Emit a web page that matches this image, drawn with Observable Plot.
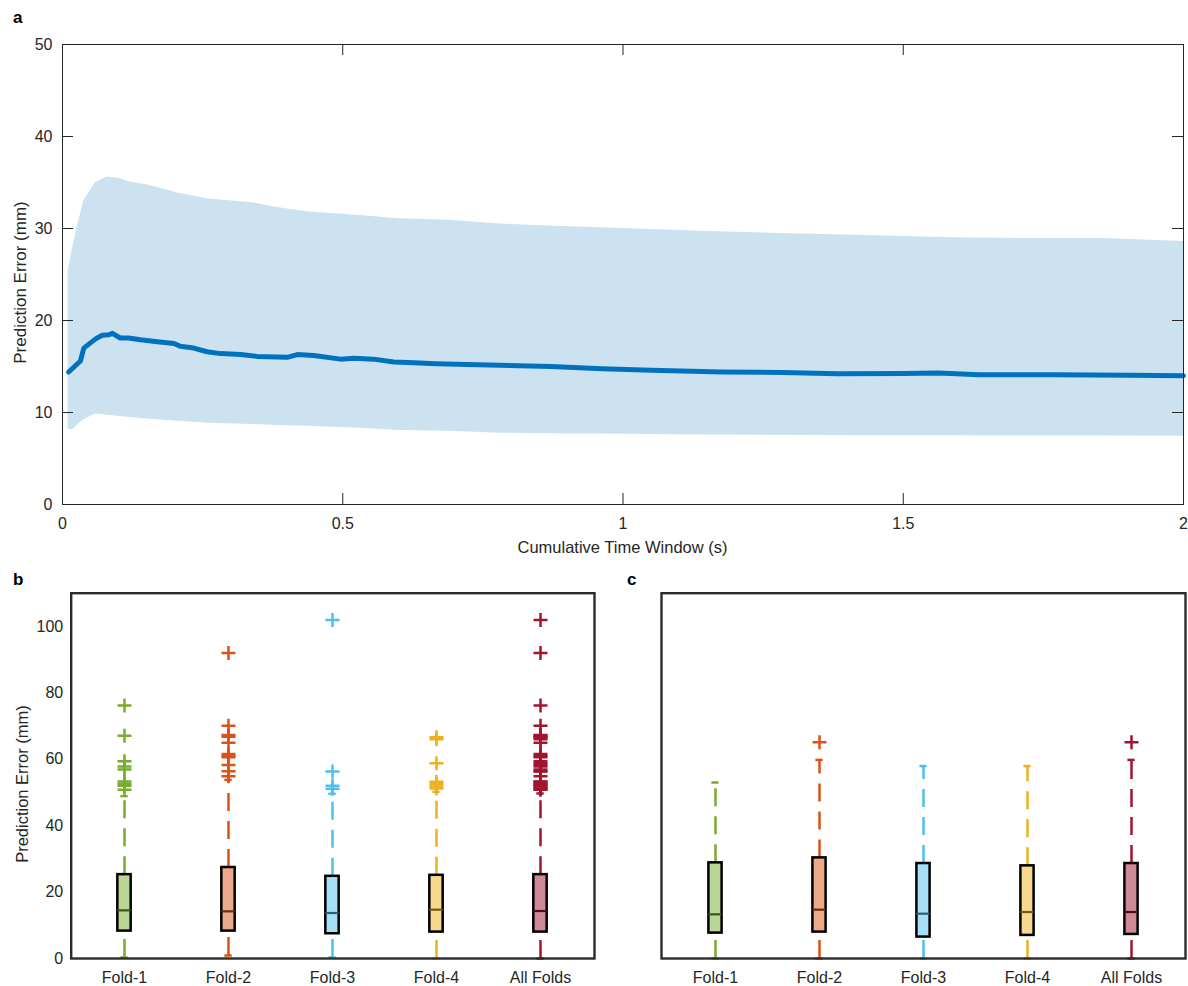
<!DOCTYPE html>
<html>
<head>
<meta charset="utf-8">
<script src="https://cdn.jsdelivr.net/npm/d3@7"></script>
<script src="https://cdn.jsdelivr.net/npm/@observablehq/plot@0.6"></script>
<style>
  html, body { margin: 0; padding: 0; background: #fff; }
  #root { position: relative; width: 1188px; height: 986px; overflow: hidden; font-family: "Liberation Sans", Arial, sans-serif; }
  .panel { position: absolute; }
  #overlay { position: absolute; left: 0; top: 0; pointer-events: none; }
</style>
</head>
<body>
<div id="root"></div>
<script>
// ---------------- Panel a data ----------------
const bandT     = [0.01, 0.017, 0.026, 0.038, 0.059, 0.08, 0.103, 0.12, 0.15, 0.18, 0.205, 0.26, 0.34, 0.38, 0.44, 0.53, 0.6, 0.69, 0.78, 0.85, 0.96, 1.05, 1.14, 1.32, 1.45, 1.59, 1.72, 1.86, 2.0];
const bandUpper = [25.3, 27.6, 30.1, 33.0, 35.0, 35.6, 35.4, 35.05, 34.75, 34.3, 33.85, 33.2, 32.8, 32.3, 31.8, 31.4, 31.05, 30.9, 30.5, 30.3, 30.07, 29.9, 29.7, 29.4, 29.2, 29.0, 28.9, 28.9, 28.6];
const bandLower = [8.2, 8.1, 8.6, 9.2, 9.85, 9.7, 9.57, 9.45, 9.3, 9.15, 9.05, 8.84, 8.7, 8.6, 8.5, 8.3, 8.05, 7.95, 7.75, 7.7, 7.65, 7.6, 7.55, 7.5, 7.48, 7.47, 7.45, 7.44, 7.43];

const meanT   = [0.011, 0.032, 0.038, 0.059, 0.071, 0.083, 0.089, 0.103, 0.118, 0.139, 0.169, 0.199, 0.21, 0.234, 0.258, 0.282, 0.318, 0.347, 0.401, 0.419, 0.448, 0.496, 0.52, 0.555, 0.591, 0.627, 0.666, 0.872, 0.962, 1.051, 1.177, 1.285, 1.383, 1.50, 1.563, 1.635, 1.768, 1.903, 2.0];
const meanErr = [14.4, 15.6, 17.0, 18.0, 18.4, 18.45, 18.6, 18.1, 18.1, 17.9, 17.7, 17.5, 17.2, 17.0, 16.6, 16.4, 16.3, 16.1, 16.0, 16.3, 16.2, 15.8, 15.9, 15.8, 15.5, 15.4, 15.3, 15.0, 14.75, 14.6, 14.4, 14.35, 14.2, 14.24, 14.3, 14.1, 14.1, 14.05, 14.0];

const xTicksA = [0, 0.5, 1, 1.5, 2];
const yTicksA = [0, 10, 20, 30, 40, 50];

// ---------------- Panels b & c data ----------------
const categories   = ["Fold-1", "Fold-2", "Fold-3", "Fold-4", "All Folds"];
const lineColors   = ["#77AC30", "#D95319", "#4DBEEE", "#EDB120", "#A2142F"];
const fillColors   = ["#bbd597", "#eca98c", "#a6def6", "#f6d88f", "#d08997"];
const medianColors = ["#3c5618", "#6c2a0c", "#265f77", "#765810", "#510a17"];
const yTicksB = [0, 20, 40, 60, 80, 100];

// panel b
const q1B  = [8.25, 8.25, 7.45, 7.95, 7.95];
const medB = [14.5, 14.2, 13.7, 14.7, 14.3];
const q3B  = [25.25, 27.4, 24.75, 25.05, 25.25];
const loB  = [0.3, 0.9, 0.3, 0, 0];
const hiB  = [48.9, 53.8, 49.6, 50.2, 49.7];
const outFold1B = [76.2, 67.1, 59.4, 57.8, 56.9, 53.3, 52.6, 52.0, 50.8];
const outFold2B = [92.0, 70.1, 67.3, 66.8, 65.0, 61.6, 61.0, 60.6, 58.3, 56.4, 54.9];
const outFold3B = [101.9, 56.3, 52.0, 51.1];
const outFold4B = [66.6, 66.0, 58.8, 53.2, 52.5, 51.8, 51.2];
const outAllB   = [101.9, 92.0, 76.2, 70.1, 67.3, 67.1, 66.8, 66.6, 66.0, 65.0, 61.6, 61.0, 60.6, 59.4, 58.8, 58.3, 57.8, 56.9, 56.4, 56.3, 54.9, 53.3, 53.2, 52.6, 52.5, 52.0, 51.8, 51.2, 51.1, 50.8];

// panel c
const q1C  = [7.65, 7.95, 6.45, 6.95, 7.25];
const medC = [13.3, 14.7, 13.5, 14.0, 14.0];
const q3C  = [28.8, 30.3, 28.6, 27.9, 28.6];
const loC  = [0, 0, 0, 0, 0];
const hiC  = [53.0, 59.8, 57.95, 57.95, 59.8];
const outFold1C = [];
const outFold2C = [65.1];
const outFold3C = [];
const outFold4C = [];
const outAllC   = [65.1];

// ---------------- helpers ----------------
const FONT = "'Liberation Sans', Arial, Helvetica, sans-serif";
const TXT = "#262626";
const root = document.getElementById("root");

function place(node, left, top) {
  const div = document.createElement("div");
  div.className = "panel";
  div.style.left = left + "px";
  div.style.top = top + "px";
  div.appendChild(node);
  root.appendChild(div);
}

const plusSymbol = {
  draw(context, size) {
    const r = Math.sqrt(size / Math.PI);
    context.moveTo(-r, 0); context.lineTo(r, 0);
    context.moveTo(0, -r); context.lineTo(0, r);
  }
};

// ---------------- Panel a ----------------
{
  const width = 1188, height = 560, mL = 62, mR = 5, mT = 44, mB = 56;
  const fw = width - mL - mR, fh = height - mT - mB;
  const tickLen = 11;
  const band = bandT.map((t, i) => ({t, lo: bandLower[i], hi: bandUpper[i]}));
  const mean = meanT.map((t, i) => ({t, v: meanErr[i]}));
  const chart = Plot.plot({
    width, height, marginLeft: mL, marginRight: mR, marginTop: mT, marginBottom: mB,
    style: {fontFamily: FONT, fontSize: "16px", color: TXT, background: "transparent", overflow: "visible"},
    x: {domain: [0, 2]},
    y: {domain: [0, 50]},
    marks: [
      Plot.areaY(band, {x: "t", y1: "lo", y2: "hi", fill: "#cce2f1", curve: "linear"}),
      Plot.line(mean, {x: "t", y: "v", stroke: "#0072BD", strokeWidth: 5, curve: "linear"}),
      Plot.tickY(yTicksA, {y: d => d, stroke: TXT, strokeWidth: 1, insetRight: fw - tickLen}),
      Plot.tickY(yTicksA, {y: d => d, stroke: TXT, strokeWidth: 1, insetLeft: fw - tickLen}),
      Plot.tickX(xTicksA, {x: d => d, stroke: TXT, strokeWidth: 1, insetTop: fh - tickLen}),
      Plot.tickX(xTicksA, {x: d => d, stroke: TXT, strokeWidth: 1, insetBottom: fh - tickLen}),
      Plot.frame({stroke: TXT, strokeWidth: 1}),
      Plot.axisY({ticks: yTicksA, tickSize: 0, tickPadding: 10, label: null, fill: TXT, tickFormat: d => String(d)}),
      Plot.axisX({ticks: xTicksA, tickSize: 0, tickPadding: 13, label: null, fill: TXT, tickFormat: d => String(d)})
    ]
  });
  place(chart, 0, 0);
}

// ---------------- Box panels ----------------
function boxPanel({left, top, width, height, mL, mR, mT, mB, q1, med, q3, lo, hi, outs, showY}) {
  const fw = width - mL - mR;
  const bw = fw / categories.length;
  const boxInset = (bw - 14) / 2;
  const capInset = (bw - 8) / 2;
  const boxes = categories.map((c, i) => ({
    cat: c, q1: q1[i], med: med[i], q3: q3[i], lo: lo[i], hi: hi[i],
    color: lineColors[i], boxFill: fillColors[i], mcol: medianColors[i]
  }));
  const outliers = [];
  categories.forEach((c, i) => outs[i].forEach(v => outliers.push({cat: c, v, color: lineColors[i]})));
  const marks = [
    Plot.ruleX(boxes, {x: "cat", y1: "lo", y2: "q1", stroke: "color", strokeWidth: 2.5, strokeDasharray: "18,10"}),
    Plot.ruleX(boxes, {x: "cat", y1: "q3", y2: "hi", stroke: "color", strokeWidth: 2.5, strokeDasharray: "18,10"}),
    Plot.tickY(boxes, {x: "cat", y: "hi", stroke: "color", strokeWidth: 2.5, insetLeft: capInset, insetRight: capInset}),
    Plot.tickY(boxes, {x: "cat", y: "lo", stroke: "color", strokeWidth: 2.5, insetLeft: capInset, insetRight: capInset}),
    Plot.dot(outliers, {x: "cat", y: "v", stroke: "color", symbol: plusSymbol, r: 7, strokeWidth: 2.5, fill: "none"}),
    Plot.barY(boxes, {x: "cat", y1: "q1", y2: "q3", fill: "boxFill", stroke: "#000", strokeWidth: 2.5, insetLeft: boxInset, insetRight: boxInset}),
    Plot.tickY(boxes, {x: "cat", y: "med", stroke: "mcol", strokeWidth: 2.2, insetLeft: boxInset, insetRight: boxInset}),
    Plot.frame({stroke: "#2b2b2b", strokeWidth: 2.4}),
    Plot.axisX({tickSize: 0, tickPadding: 13, label: null, fill: TXT})
  ];
  if (showY) marks.push(Plot.axisY({ticks: yTicksB, tickSize: 0, tickPadding: 8, label: null, fill: TXT}));
  else marks.push(Plot.axisY({ticks: [], label: null}));
  const chart = Plot.plot({
    width, height, marginLeft: mL, marginRight: mR, marginTop: mT, marginBottom: mB,
    style: {fontFamily: FONT, fontSize: "16px", color: TXT, background: "transparent", overflow: "visible"},
    x: {type: "band", domain: categories, padding: 0},
    y: {domain: [0, 110]},
    color: {type: "identity"},
    marks
  });
  place(chart, left, top);
}

boxPanel({left: 0, top: 560, width: 600, height: 426, mL: 70.7, mR: 6, mT: 32.7, mB: 28,
  q1: q1B, med: medB, q3: q3B, lo: loB, hi: hiB,
  outs: [outFold1B, outFold2B, outFold3B, outFold4B, outAllB], showY: true});

boxPanel({left: 600, top: 560, width: 588, height: 426, mL: 61, mR: 3, mT: 32.7, mB: 28,
  q1: q1C, med: medC, q3: q3C, lo: loC, hi: hiC,
  outs: [outFold1C, outFold2C, outFold3C, outFold4C, outAllC], showY: false});

// ---------------- Overlay text ----------------
const svg = d3.select(root).append("svg").attr("id", "overlay")
  .attr("width", 1188).attr("height", 986)
  .style("font-family", FONT);

svg.append("text").attr("x", 13).attr("y", 22.5).attr("font-size", 17).attr("font-weight", "bold").attr("fill", "#000").text("a");
svg.append("text").attr("x", 13).attr("y", 585).attr("font-size", 17).attr("font-weight", "bold").attr("fill", "#000").text("b");
svg.append("text").attr("x", 627).attr("y", 585).attr("font-size", 17).attr("font-weight", "bold").attr("fill", "#000").text("c");

svg.append("text").attr("transform", "translate(26,282.5) rotate(-90)").attr("text-anchor", "middle")
  .attr("font-size", 17).attr("fill", TXT).text("Prediction Error (mm)");
svg.append("text").attr("x", 622.5).attr("y", 553).attr("text-anchor", "middle")
  .attr("font-size", 16.5).attr("fill", TXT).text("Cumulative Time Window (s)");
svg.append("text").attr("transform", "translate(28,784) rotate(-90)").attr("text-anchor", "middle")
  .attr("font-size", 16.5).attr("fill", TXT).text("Prediction Error (mm)");
</script>
</body>
</html>
